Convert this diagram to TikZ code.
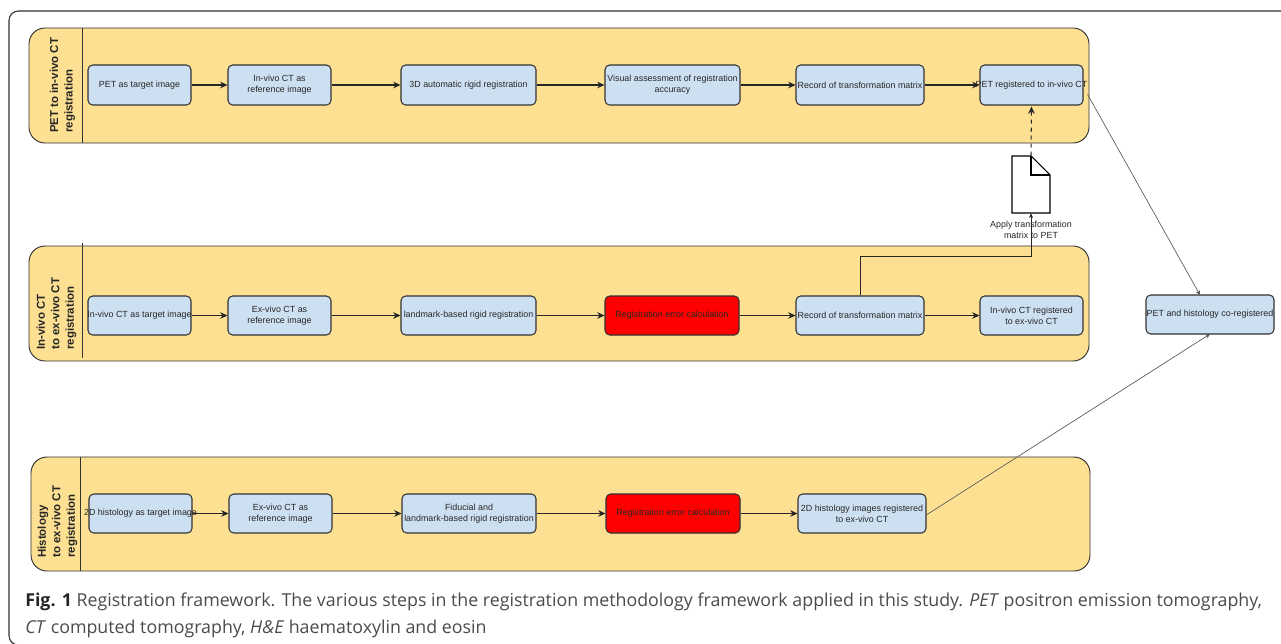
\documentclass[tikz,border=0pt]{standalone}
\usepackage{fontspec}
\setmainfont{Liberation Sans}
\newfontfamily\capfont{Open Sans}
\usetikzlibrary{arrows.meta}
\definecolor{lanefill}{RGB}{253,224,146}
\definecolor{boxfill}{RGB}{205,224,242}
\definecolor{edgecol}{RGB}{50,50,50}
\definecolor{captext}{RGB}{75,75,75}
\tikzset{
  x=0.75pt,y=-0.75pt,
  outerframe/.style={draw=edgecol,line width=0.8pt,rounded corners=7pt},
  lanebox/.style={draw=edgecol,line width=0.7pt,fill=lanefill,rounded corners=12pt,inner sep=0pt},
  lanediv/.style={draw=edgecol,line width=0.65pt},
  lanetitle/.style={rotate=90,anchor=west,align=left,font=\fontsize{8.6pt}{10.9pt}\selectfont\bfseries,inner sep=0pt,text=black!85},
  stepbox/.style={draw=edgecol,line width=0.8pt,fill=boxfill,rounded corners=3.5pt,inner sep=0pt,align=center,
    font=\fontsize{6.67pt}{8.25pt}\selectfont,text=black!85},
  redbox/.style={stepbox,fill=red},
  flow/.style={draw=black!85,line width=0.8pt,-{Stealth[length=5.5pt,width=5pt,fill=black]}},
  thinflow/.style={draw=black!65,line width=0.5pt,-{Stealth[length=3.5pt,width=3.2pt,fill=black]}},
  docshape/.style={draw=black,line width=0.8pt,fill=white},
  captionline/.style={anchor=base west,inner sep=0pt,text=captext,font=\capfont\fontsize{13.35pt}{15pt}\selectfont},
}
\newcommand{\boxat}[7][stepbox]{\node[#1,minimum width={(#4-#3)*0.75pt},minimum height={(#6-#5)*0.75pt}] (#2) at ({(#3+#4)/2},{(#5+#6)/2}) {#7};}
\begin{document}
\begin{tikzpicture}
\useasboundingbox (0,0) rectangle (1281,643);
\fill[white] (0,0) rectangle (1281,643);
\clip (0,0) rectangle (1281,643);
\draw[outerframe] (1300,11) -- (9,11) -- (9,645) -- (1300,645);
% lanes
\boxat[lanebox]{laneA}{29}{1089}{28}{143}{}
\boxat[lanebox]{laneB}{29}{1089}{246}{361}{}
\boxat[lanebox]{laneC}{31}{1090}{457}{571}{}
\coordinate (divAt) at (82,28); \coordinate (divAb) at (82,143);
\coordinate (divBt) at (82,243); \coordinate (divBb) at (82,358);
\coordinate (divCt) at (80,457); \coordinate (divCb) at (80,571);
\draw[lanediv] (divAt) -- (divAb);
\draw[lanediv] (divBt) -- (divBb);
\draw[lanediv] (divCt) -- (divCb);
\node[lanetitle] (titleA) at (62.5,133) {PET to in-vivo CT\\registration};
\node[lanetitle] (titleB) at (56.5,350) {In-vivo CT\\to ex-vivo CT\\registration};
\node[lanetitle] (titleC) at (57.5,558) {Histology\\to ex-vivo CT\\registration};
% lane 1
\boxat{a1}{88}{191}{65}{105}{PET as target image}
\boxat{a2}{228}{331}{65}{105}{In-vivo CT as\\reference image}
\boxat{a3}{401}{536}{65}{105}{3D automatic rigid registration}
\boxat{a4}{605}{740}{65}{105}{Visual assessment of registration\\accuracy}
\boxat{a5}{796}{924}{65}{105}{\clap{Record of transformation matrix}}
\boxat{a6}{980}{1083}{65}{105}{\clap{PET registered to in-vivo CT}}
% lane 2
\boxat{b1}{88}{191}{296}{335}{\clap{In-vivo CT as target image}}
\boxat{b2}{228}{331}{296}{335}{Ex-vivo CT as\\reference image}
\boxat{b3}{401}{536}{296}{335}{\clap{landmark-based rigid registration}}
\boxat[redbox]{b4}{605}{739}{296}{335}{Registration error calculation}
\boxat{b5}{796}{924}{296}{335}{\clap{Record of transformation matrix}}
\boxat{b6}{980}{1083}{296}{335}{In-vivo CT registered\\to ex-vivo CT}
% lane 3
\boxat{c1}{89}{192}{494}{533}{\clap{2D histology as target image}}
\boxat{c2}{229}{332}{494}{533}{Ex-vivo CT as\\reference image}
\boxat{c3}{402}{536}{494}{533}{Fiducial and\\\clap{landmark-based rigid registration}}
\boxat[redbox]{c4}{606}{740}{494}{533}{Registration error calculation}
\boxat{c5}{798}{926}{494}{533}{2D histology images registered\\to ex-vivo CT}
% result
\boxat{res}{1146}{1274}{295}{334}{\clap{PET and histology co-registered}}
% document
\coordinate (dtl) at (1012,156); \coordinate (dtm) at (1031,156);
\coordinate (dtr) at (1050,175); \coordinate (dbr) at (1050,213); \coordinate (dbl) at (1012,213);
\coordinate (dfold) at (1031,175);
\node[minimum width=28.5pt,minimum height=42.75pt,inner sep=0pt] (doc) at (1031,184.5) {};
\draw[docshape] (dtl) -- (dtm) -- (dtr) -- (dbr) -- (dbl) -- cycle;
\draw[docshape,fill=none] (dtm) -- (dfold) -- (dtr);
\node[inner sep=0pt,align=center,font=\fontsize{6.67pt}{8.25pt}\selectfont,text=black!85] (doclabel) at (1031,229.5) {Apply transformation\\matrix to PET};
% connectors
\foreach \u/\v in {a1/a2,a2/a3,a3/a4,a4/a5,a5/a6,b1/b2,b2/b3,b3/b4,b4/b5,b5/b6,c1/c2,c2/c3,c3/c4,c4/c5}
  \draw[flow] (\u.east) -- (\v.west);
\draw[flow,dash pattern=on 3pt off 3pt] (doc.north) -- ([yshift=-0.75pt]a6.south);
\coordinate (elbow) at (1031,256);
\draw[draw=black!85,line width=0.45pt,-{Stealth[length=3.5pt,width=3.2pt]}] (b5.north) |- (elbow) -- (doc.south);
\coordinate (resT) at (1200,295);
\coordinate (resB) at (1210,334);
\draw[thinflow] ([xshift=3pt,yshift=-7pt]a6.east) -- (resT);
\draw[thinflow] ([yshift=-1pt]c5.east) -- (resB);
% caption
\node[captionline] (cap1) at (25,606) {\textbf{\color{black!85}Fig. 1} Registration framework. The various steps in the registration methodology framework applied in this study. \textit{PET} positron emission tomography,};
\node[captionline] (cap2) at (25,633) {\textit{CT} computed tomography, \textit{H\&E} haematoxylin and eosin};
\end{tikzpicture}
\end{document}
